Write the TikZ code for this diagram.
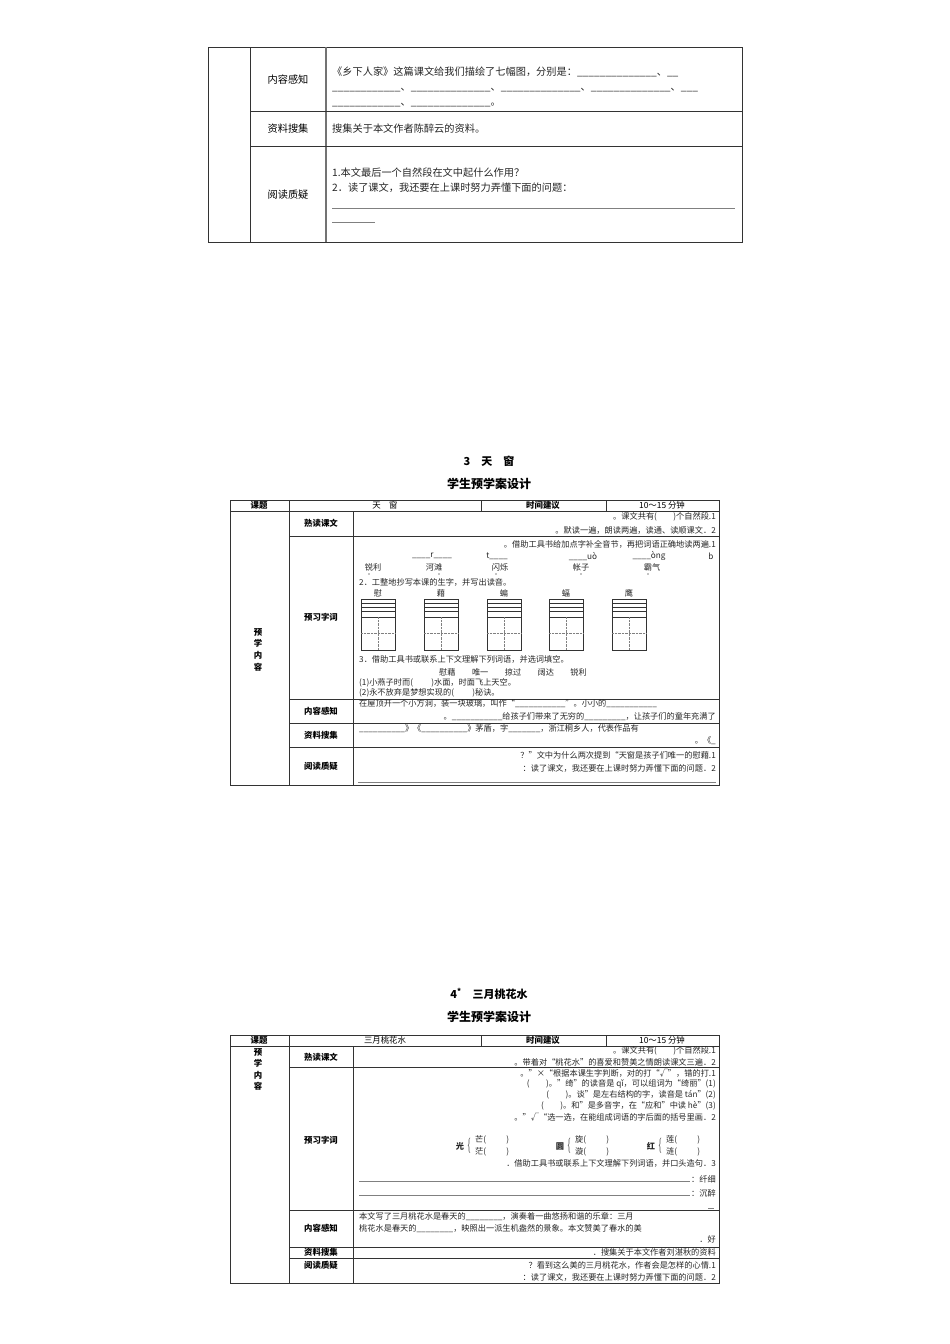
\documentclass[tikz,border=0pt]{standalone}
\usepackage{fontspec}
\newfontfamily\cjk{Noto Sans CJK SC}
\begin{document}
\begin{tikzpicture}[x=1pt,y=-1pt,
  tl/.style={font=\cjk\fontsize{8.2}{9}\selectfont,inner sep=0,anchor=west,text=black!85},
  tr/.style={font=\cjk\fontsize{8.2}{9}\selectfont,inner sep=0,anchor=east,text=black!85},
  big/.style={font=\cjk\fontsize{10.2}{11}\selectfont,inner sep=0,anchor=west,text=black!85},
  lab/.style={font=\cjk\fontsize{8.4}{9}\selectfont,inner sep=0},
  labb/.style={font=\cjk\bfseries\fontsize{8.4}{9}\selectfont,inner sep=0},
  ttl/.style={font=\cjk\bfseries\fontsize{12}{14}\selectfont,inner sep=0},
  frame/.style={draw=black!80,line width=0.6pt},
  thin/.style={draw=black!80,line width=0.4pt}]
\useasboundingbox (0,0) rectangle (950,1344);
\fill[white] (0,0) rectangle (950,1344);
% ===== Table 1
\draw[frame] (208,47) rectangle (742,242);
\draw[frame] (250,47) -- (250,242);
\draw[draw=black!55,line width=1.2pt] (326,47) -- (326,242);
\draw[frame] (250,111) -- (742,111) (250,146) -- (742,146);
\node[lab,font=\cjk\fontsize{10.2}{11}\selectfont] (a1) at (288,80) {内容感知};
\node[lab,font=\cjk\fontsize{10.2}{11}\selectfont] (a2) at (288,129) {资料搜集};
\node[lab,font=\cjk\fontsize{10.2}{11}\selectfont] (a3) at (288,195) {阅读质疑};
\node[big] (b1) at (332,72) {《乡下人家》这篇课文给我们描绘了七幅图，分别是：\_\_\_\_\_\_\_\_\_\_\_\_\_\_、\_\_};
\node[big] (b2) at (332,90) {\_\_\_\_\_\_\_\_\_\_\_\_、\_\_\_\_\_\_\_\_\_\_\_\_\_\_、\_\_\_\_\_\_\_\_\_\_\_\_\_\_、\_\_\_\_\_\_\_\_\_\_\_\_\_\_、\_\_\_};
\node[big] (b3) at (332,105) {\_\_\_\_\_\_\_\_\_\_\_\_、\_\_\_\_\_\_\_\_\_\_\_\_\_\_。};
\node[big] (b4) at (332,129) {搜集关于本文作者陈醉云的资料。};
\node[big] (b5) at (332,173) {1.本文最后一个自然段在文中起什么作用？};
\node[big] (b6) at (332,188) {2．读了课文，我还要在上课时努力弄懂下面的问题：};
\draw[draw=black!50,line width=0.4pt] (332,208) -- (735,208);
\draw[draw=black!50,line width=0.4pt] (332,222) -- (375,222);
% ===== Table 2
\node[ttl,font=\cjk\bfseries\fontsize{11}{13}\selectfont] (t2a) at (489,461) {3\quad 天\quad 窗};
\node[ttl] (t2b) at (489,484) {学生预学案设计};
\draw[frame] (230,500) rectangle (719,785);
\draw[frame] (230,511) -- (719,511);
\draw[frame] (289,500) -- (289,785);
\draw[frame] (353,511) -- (353,785);
\draw[frame] (481,500) -- (481,511) (606,500) -- (606,511);
\draw[frame] (289,536) -- (719,536) (289,699) -- (719,699) (289,723) -- (719,723) (289,747) -- (719,747);
\node[labb] (h1) at (259,505.5) {课题};
\node[lab] (h2) at (385,505.5) {天\quad 窗};
\node[labb] (h3) at (543,505.5) {时间建议};
\node[lab] (h4) at (662,505.5) {10～15 分钟};
\foreach \c/\yy [count=\i] in {预/632,学/643,内/655,容/667} \node[labb] (v2\i) at (258,\yy) {\c};
\node[labb] (l21) at (321,523) {熟读课文};
\node[labb] (l22) at (321,617) {预习字词};
\node[labb] (l23) at (321,711) {内容感知};
\node[labb] (l24) at (321,735) {资料搜集};
\node[labb] (l25) at (321,766) {阅读质疑};
\node[tr] (c1) at (716,517) {。课文共有(\qquad )个自然段.1};
\node[tr] (c2) at (716,530) {。默读一遍，朗读两遍，读通、读顺课文．2};
\node[tr] (c3) at (716,544) {。借助工具书给加点字补全音节，再把词语正确地读两遍.1};
\node[tl,anchor=center] (p1) at (432,556) {\_\_\_\_r\_\_\_\_};
\node[tl,anchor=center] (p2) at (497,556) {t\_\_\_\_};
\node[tl,anchor=center] (p3) at (583,556) {\_\_\_\_uò};
\node[tl,anchor=center] (p4) at (649,556) {\_\_\_\_òng};
\node[tl,anchor=center] (p5) at (711,556) {b};
\node[tl,anchor=center] (w1) at (373,567) {锐利};
\node[tl,anchor=center] (w2) at (434,567) {河滩};
\node[tl,anchor=center] (w3) at (500,567) {闪烁};
\node[tl,anchor=center] (w4) at (581,567) {帐子};
\node[tl,anchor=center] (w5) at (652,567) {霸气};
\foreach \x in {369,439,496,581,648} \fill (\x,574) circle (0.6);
\node[tl] (c4) at (359,582) {2．工整地抄写本课的生字，并写出读音。};
\foreach \x/\c [count=\i] in {361/慰,424/藉,487/蝙,549/蝠,612/鹰}{
  \node[tl,anchor=center] (z\i) at (\x+17,593) {\c};
  \draw[thin] (\x,599) rectangle (\x+34,650);
  \draw[thin] (\x,603) -- (\x+34,603) (\x,607) -- (\x+34,607) (\x,611) -- (\x+34,611) (\x,617) -- (\x+34,617);
  \draw[black!50,densely dotted,line width=0.4pt] (\x+17,617) -- (\x+17,650) (\x,633.5) -- (\x+34,633.5);
}
\node[tl] (c5) at (359,659) {3．借助工具书或联系上下文理解下列词语，并选词填空。};
\node[tl] (c6) at (439,672) {慰藉\qquad 唯一\qquad 掠过\qquad 阔达\qquad 锐利};
\node[tl] (c7) at (359,683) {(1)小燕子时而(\qquad\ )水面，时面飞上天空。};
\node[tl] (c8) at (359,693) {(2)永不放弃是梦想实现的(\qquad\ )秘诀。};
\node[tl] (c9) at (359,704) {在屋顶开一个小方洞，装一块玻璃，叫作“\_\_\_\_\_\_\_\_\_\_\_”。小小的\_\_\_\_\_\_\_\_\_\_\_};
\node[tr] (c10) at (716,717) {。\_\_\_\_\_\_\_\_\_\_\_给孩子们带来了无穷的\_\_\_\_\_\_\_\_\_，让孩子们的童年充满了};
\node[tl] (c11) at (359,729) {\_\_\_\_\_\_\_\_\_\_》《\_\_\_\_\_\_\_\_\_\_》茅盾，字\_\_\_\_\_\_\_，浙江桐乡人，代表作品有};
\node[tr] (c12) at (716,741) {。《\_};
\node[tr] (c13) at (716,755) {？”文中为什么两次提到“天窗是孩子们唯一的慰藉.1};
\node[tr] (c14) at (716,768) {：读了课文，我还要在上课时努力弄懂下面的问题．2};
\draw[draw=black!50,line width=1pt] (358,782) -- (716,782);
% ===== Table 3
\node[ttl,font=\cjk\bfseries\fontsize{11}{13}\selectfont] (t3a) at (489,994) {4\textsuperscript{*}\quad 三月桃花水};
\node[ttl] (t3b) at (489,1017) {学生预学案设计};
\draw[frame] (230,1035) rectangle (719,1283);
\draw[frame] (230,1046) -- (719,1046);
\draw[frame] (289,1035) -- (289,1283);
\draw[frame] (353,1046) -- (353,1283);
\draw[frame] (481,1035) -- (481,1046) (606,1035) -- (606,1046);
\draw[frame] (289,1067) -- (719,1067) (289,1210) -- (719,1210) (289,1247) -- (719,1247) (289,1258) -- (719,1258);
\node[labb] (h5) at (259,1040.5) {课题};
\node[lab] (h6) at (385,1040.5) {三月桃花水};
\node[labb] (h7) at (543,1040.5) {时间建议};
\node[lab] (h8) at (662,1040.5) {10～15 分钟};
\foreach \c/\yy [count=\i] in {预/1052,学/1063,内/1075,容/1086} \node[labb] (v3\i) at (258,\yy) {\c};
\node[labb] (l31) at (321,1057) {熟读课文};
\node[labb] (l32) at (321,1140) {预习字词};
\node[labb] (l33) at (321,1228) {内容感知};
\node[labb] (l34) at (321,1252.5) {资料搜集};
\node[labb] (l35) at (321,1265) {阅读质疑};
\node[tr] (d1) at (716,1051) {。课文共有(\qquad )个自然段.1};
\node[tr] (d2) at (716,1062) {。带着对“桃花水”的喜爱和赞美之情朗读课文三遍．2};
\node[tr] (d3) at (716,1073) {。”×“根据本课生字判断，对的打“√”，错的打.1};
\node[tr] (d4) at (716,1084) {(\qquad )。”绮”的读音是 qǐ，可以组词为“绮丽”(1)};
\node[tr] (d5) at (716,1095) {(\qquad )。谈”是左右结构的字，读音是 tán”(2)};
\node[tr] (d6) at (716,1106) {(\qquad )。和”是多音字，在“应和”中读 hè”(3)};
\node[tr] (d7) at (716,1117) {。”√“选一选，在能组成词语的字后面的括号里画．2};
\foreach \x/\m/\a/\b [count=\i] in {460/光/芒/茫,560/圆/旋/漩,651/红/莲/涟}{
  \node[tl,font=\cjk\bfseries\fontsize{8.2}{9}\selectfont,anchor=center] (m\i) at (\x,1146) {\m};
  \node[inner sep=0,anchor=center] (br\i) at (\x+9,1146) {\scalebox{0.7}[1.5]{\{}};
  \node[tl] (ma\i) at (\x+15,1140) {\a(\qquad\ \ )};
  \node[tl] (mb\i) at (\x+15,1152) {\b(\qquad\ \ )};
}
\node[tr] (d8) at (716,1163) {．借助工具书或联系上下文理解下列词语，并口头造句．3};
\node[tr] (d9) at (716,1179) {：纤细};
\node[tr] (d10) at (716,1193) {：沉醉};
\draw[draw=black!50,line width=0.5pt] (359,1181) -- (690,1181) (359,1195) -- (690,1195);
\draw[draw=black!50,line width=0.5pt] (708,1208) -- (714,1208);
\node[tl] (d11) at (359,1217) {本文写了三月桃花水是春天的\_\_\_\_\_\_\_\_，演奏着一曲悠扬和谐的乐章：三月};
\node[tl] (d12) at (359,1229) {桃花水是春天的\_\_\_\_\_\_\_\_，映照出一派生机盎然的景象。本文赞美了春水的美};
\node[tr] (d13) at (716,1239) {．好};
\node[tr] (d14) at (716,1252.5) {．搜集关于本文作者刘湛秋的资料};
\node[tr] (d15) at (716,1265) {？看到这么美的三月桃花水，作者会是怎样的心情.1};
\node[tr] (d16) at (716,1277) {：读了课文，我还要在上课时努力弄懂下面的问题．2};
\end{tikzpicture}
\end{document}
